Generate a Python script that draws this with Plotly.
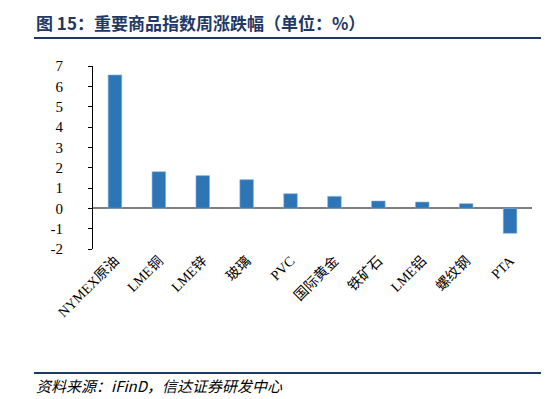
import plotly.graph_objects as go

categories = ["NYMEX原油", "LME铜", "LME锌", "玻璃", "PVC", "国际黄金", "铁矿石", "LME铝", "螺纹钢", "PTA"]
values = [6.56, 1.80, 1.61, 1.41, 0.72, 0.59, 0.36, 0.31, 0.23, -1.23]
y_ticks = [-2, -1, 0, 1, 2, 3, 4, 5, 6, 7]
y_tick_text = [str(v) for v in y_ticks]

OFF = 8  # default body margin of the page
W, H = 549 - OFF, 399 - OFF


def fx(x):  # page pixel x -> paper fraction
    return (x - OFF) / W


def fy(y):  # page pixel y -> paper fraction (from bottom)
    return (H - (y - OFF)) / H


fig = go.Figure()
fig.add_trace(go.Bar(
    x=categories, y=values,
    marker=dict(color="#2E75B6", line=dict(color="#8DB4E2", width=0.6)),
    width=0.31,
))

fig.update_layout(
    width=W, height=H,
    margin=dict(l=0, r=0, t=0, b=0, autoexpand=False),
    paper_bgcolor="white", plot_bgcolor="white",
    showlegend=False,
    font=dict(family="Liberation Serif, Noto Sans CJK SC", color="black"),
    xaxis=dict(
        domain=[fx(93), fx(532)],
        showline=False, showgrid=False, ticks="", tickangle=-45, automargin=False,
        tickfont=dict(size=14, family="Liberation Serif, Noto Sans CJK SC"),
    ),
    yaxis=dict(
        domain=[fy(249), fy(66)],
        range=[-2, 7], tickvals=y_ticks, ticktext=y_tick_text, showgrid=False,
        automargin=False,
        showline=True, linecolor="black", linewidth=1,
        ticks="outside", ticklen=4, tickcolor="black",
        ticklabelstandoff=22,
        zeroline=True, zerolinecolor="#7F7F7F", zerolinewidth=1.5,
        tickfont=dict(size=15, family="Liberation Serif"),
    ),
    shapes=[
        dict(type="line", xref="paper", yref="paper", x0=fx(34), x1=1,
             y0=fy(38), y1=fy(38),
             line=dict(color="#1F3864", width=2)),
        dict(type="line", xref="paper", yref="paper", x0=fx(34), x1=1,
             y0=fy(373), y1=fy(373),
             line=dict(color="#1F3864", width=2)),
    ],
    annotations=[
        dict(text="<b>图 15：重要商品指数周涨跌幅（单位：%）</b>", xref="paper", yref="paper",
             x=fx(34), y=1, xanchor="left", yanchor="top",
             showarrow=False, font=dict(size=17, color="#1F3864", family="Noto Sans CJK SC")),
        dict(text="<i>资料来源：iFinD，信达证券研发中心</i>", xref="paper", yref="paper",
             x=fx(34), y=fy(385), xanchor="left", yanchor="middle",
             showarrow=False, font=dict(size=15, color="black", family="Noto Sans CJK SC")),
    ],
)

fig.write_html("out.html")
